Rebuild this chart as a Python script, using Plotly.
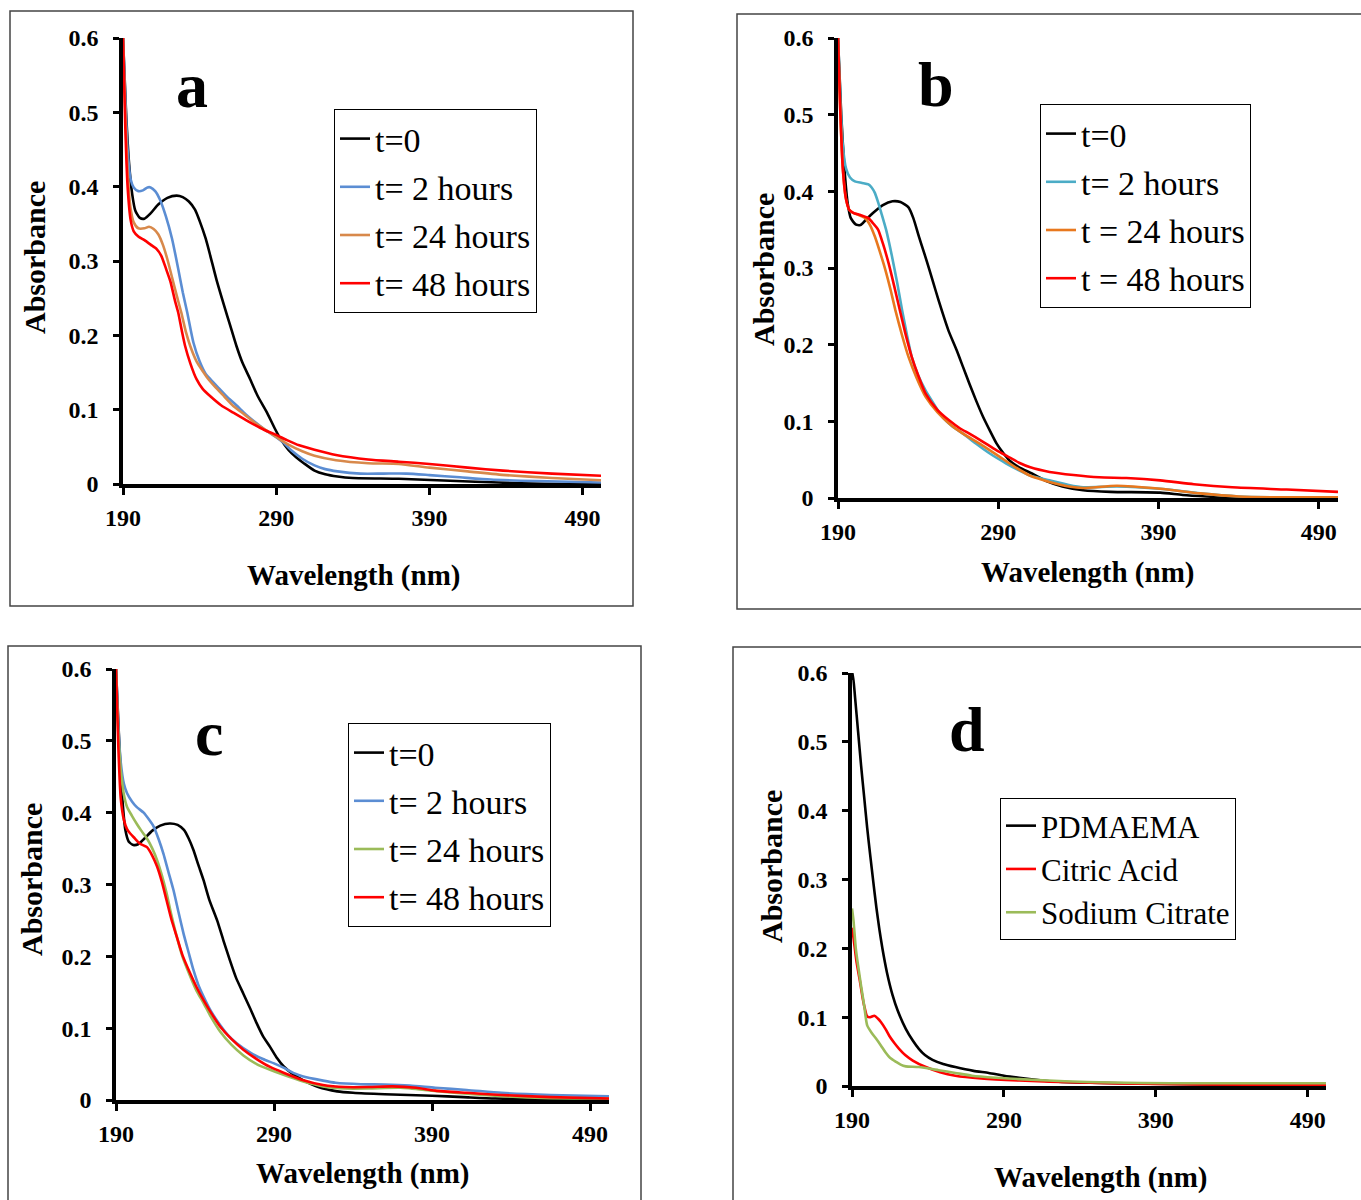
import plotly.graph_objects as go

# ---------------- data ----------------
# Panel a
A_T0_WL = [190, 192, 194, 196, 198, 201, 204, 208, 213, 219, 225, 229, 233, 237, 240, 244, 247, 251, 256, 260, 264, 268, 273, 278, 284, 289, 293, 298, 303, 308, 315, 322, 330, 340, 370, 395, 420, 450, 480, 502]
A_T0_AB = [0.60, 0.50, 0.43, 0.39, 0.368, 0.358, 0.357, 0.364, 0.376, 0.385, 0.388, 0.386, 0.380, 0.369, 0.354, 0.33, 0.307, 0.275, 0.24, 0.213, 0.186, 0.163, 0.141, 0.118, 0.096, 0.075, 0.06, 0.046, 0.036, 0.028, 0.018, 0.013, 0.010, 0.008, 0.007, 0.005, 0.003, 0.001, 0.0, 0.0]
A_T2_WL = [190, 191.5, 193, 195, 197, 200, 203, 206, 208, 211, 214, 218, 222, 226, 229, 232, 236, 240, 244, 247, 252, 258, 264, 270, 277, 284, 290, 295, 300, 307, 315, 322, 330, 345, 360, 375, 390, 410, 430, 460, 502]
A_T2_AB = [0.60, 0.52, 0.45, 0.41, 0.399, 0.394, 0.395, 0.399, 0.399, 0.394, 0.383, 0.36, 0.33, 0.29, 0.258, 0.23, 0.19, 0.165, 0.148, 0.141, 0.13, 0.117, 0.106, 0.094, 0.082, 0.071, 0.063, 0.055, 0.045, 0.034, 0.025, 0.02, 0.017, 0.014, 0.014, 0.014, 0.012, 0.009, 0.006, 0.004, 0.002]
A_T24_WL = [190, 191.5, 193, 195, 197, 200, 204, 207, 210, 213, 216, 219, 222, 225, 228, 231, 234, 238, 242, 245, 250, 256, 262, 269, 277, 285, 291, 298, 307, 315, 329, 350, 370, 390, 415, 440, 470, 502]
A_T24_AB = [0.60, 0.50, 0.42, 0.37, 0.352, 0.344, 0.344, 0.346, 0.343, 0.336, 0.322, 0.302, 0.278, 0.254, 0.231, 0.205, 0.185, 0.165, 0.152, 0.143, 0.131, 0.118, 0.105, 0.094, 0.081, 0.07, 0.062, 0.053, 0.044, 0.038, 0.032, 0.028, 0.027, 0.022, 0.017, 0.012, 0.008, 0.005]
A_T48_WL = [190, 191.5, 193, 195, 197, 200, 204, 208, 212, 215, 218, 221, 224, 226, 228.5, 230.5, 234, 238, 242, 247, 254, 262, 272, 282, 290, 297, 305, 315, 329, 350, 370, 390, 415, 438, 470, 502]
A_T48_AB = [0.60, 0.48, 0.40, 0.355, 0.34, 0.333, 0.328, 0.322, 0.316, 0.307, 0.29, 0.272, 0.246, 0.231, 0.205, 0.186, 0.162, 0.141, 0.128, 0.118, 0.106, 0.096, 0.084, 0.073, 0.066, 0.059, 0.052, 0.046, 0.039, 0.033, 0.03, 0.027, 0.022, 0.018, 0.014, 0.011]

# Panel b
B_T0_WL = [190, 192, 194, 196, 198, 201, 204, 207, 212, 218, 224, 229, 234, 237, 240.5, 244, 247, 251, 255, 259, 264, 268, 272, 276, 280.5, 285, 289, 293, 297, 303, 311, 320, 330, 343, 360, 391, 405, 420, 440, 502]
B_T0_AB = [0.60, 0.50, 0.43, 0.385, 0.365, 0.357, 0.356, 0.362, 0.372, 0.382, 0.387, 0.386, 0.379, 0.365, 0.341, 0.318, 0.298, 0.27, 0.243, 0.218, 0.193, 0.171, 0.149, 0.128, 0.106, 0.087, 0.071, 0.059, 0.049, 0.04, 0.032, 0.022, 0.015, 0.01, 0.008, 0.007, 0.004, 0.002, 0.0, 0.0]
B_T2_WL = [190, 191.5, 193, 195, 197.5, 200.5, 205, 209, 211, 213, 215, 217, 220, 223.7, 227, 230, 233, 236, 240, 244.7, 250, 255, 261, 268, 276, 284.7, 295, 303, 310, 322, 334, 343, 364, 391, 416, 440, 460, 502]
B_T2_AB = [0.60, 0.52, 0.46, 0.43, 0.418, 0.413, 0.411, 0.409, 0.405, 0.398, 0.386, 0.372, 0.35, 0.315, 0.28, 0.245, 0.213, 0.184, 0.16, 0.14, 0.122, 0.106, 0.094, 0.084, 0.071, 0.058, 0.045, 0.036, 0.029, 0.023, 0.017, 0.014, 0.015, 0.012, 0.006, 0.002, 0.001, 0.001]
B_T24_WL = [190, 191.5, 193, 195, 197, 199.5, 203, 207, 210, 213, 216, 219.5, 223, 225.8, 230, 234, 239, 244.7, 252, 259.5, 268, 278.4, 290, 300, 310, 322, 334, 343, 364, 391, 416, 440, 460, 502]
B_T24_AB = [0.60, 0.50, 0.43, 0.39, 0.376, 0.372, 0.369, 0.365, 0.356, 0.341, 0.322, 0.298, 0.27, 0.245, 0.212, 0.184, 0.157, 0.132, 0.112, 0.097, 0.084, 0.071, 0.055, 0.041, 0.029, 0.021, 0.015, 0.013, 0.016, 0.012, 0.006, 0.002, 0.001, 0.001]
B_T48_WL = [190, 191.5, 193, 195, 197, 199.5, 204, 209, 212, 215, 218, 221.6, 225, 228, 232, 236, 240, 244.7, 252, 259.5, 266, 272, 280, 289, 296, 303, 310, 322, 337, 353, 370, 391, 412, 436, 470, 502]
B_T48_AB = [0.60, 0.50, 0.43, 0.39, 0.376, 0.372, 0.369, 0.365, 0.358, 0.35, 0.332, 0.306, 0.277, 0.25, 0.215, 0.184, 0.16, 0.136, 0.115, 0.101, 0.091, 0.084, 0.074, 0.062, 0.054, 0.046, 0.04, 0.034, 0.03, 0.027, 0.026, 0.023, 0.018, 0.014, 0.011, 0.008]

# Panel c
C_T0_WL = [190, 192, 194, 196, 198, 201, 204, 208, 213, 218, 224, 229, 233, 236, 239, 242, 245.4, 249, 254, 258, 262, 266, 270.6, 275, 279, 283, 287.5, 292, 296, 302, 308, 318, 330, 340, 360, 390, 410, 430, 460, 502]
C_T0_AB = [0.60, 0.50, 0.42, 0.375, 0.36, 0.355, 0.356, 0.364, 0.375, 0.382, 0.385, 0.383, 0.376, 0.364, 0.348, 0.328, 0.306, 0.279, 0.25, 0.222, 0.195, 0.17, 0.148, 0.127, 0.107, 0.089, 0.074, 0.058, 0.047, 0.036, 0.028, 0.018, 0.012, 0.01, 0.008, 0.006, 0.004, 0.002, 0.001, 0.0]
C_T2_WL = [190, 191.5, 193, 195, 197, 200, 203, 207.5, 211, 214, 217, 220, 223, 226.4, 229.5, 232.7, 236, 239, 242, 245.4, 250, 256, 261, 266.4, 275, 283, 290, 296, 303, 308, 321, 329, 345, 360, 376, 392, 412, 434, 465, 502]
C_T2_AB = [0.60, 0.52, 0.47, 0.44, 0.427, 0.416, 0.408, 0.40, 0.39, 0.38, 0.363, 0.343, 0.319, 0.292, 0.262, 0.232, 0.205, 0.181, 0.161, 0.144, 0.124, 0.104, 0.09, 0.079, 0.066, 0.057, 0.051, 0.045, 0.037, 0.033, 0.027, 0.024, 0.022, 0.0215, 0.02, 0.017, 0.014, 0.01, 0.007, 0.005]
C_T24_WL = [190, 191.5, 193, 195, 197, 200, 203, 206, 209.6, 213, 216, 219, 222, 225, 228.5, 232, 237, 241, 245.4, 250, 256, 263, 270.6, 279, 287.5, 296, 308, 321, 335, 350, 370, 390, 410, 430, 460, 502]
C_T24_AB = [0.60, 0.51, 0.46, 0.425, 0.408, 0.396, 0.385, 0.375, 0.364, 0.35, 0.334, 0.313, 0.288, 0.258, 0.227, 0.2, 0.172, 0.152, 0.135, 0.116, 0.095, 0.077, 0.062, 0.05, 0.042, 0.035, 0.026, 0.019, 0.016, 0.016, 0.017, 0.013, 0.009, 0.006, 0.003, 0.002]
C_T48_WL = [190, 191.5, 193, 195, 197, 199, 202, 205, 209.6, 213, 216, 219, 222, 225, 228.5, 232, 237, 241, 245.4, 250, 256, 263, 270.6, 279, 287.5, 296, 308, 321, 335, 350, 365, 380, 392, 412, 434, 465, 502]
C_T48_AB = [0.60, 0.49, 0.42, 0.39, 0.377, 0.371, 0.364, 0.357, 0.352, 0.34, 0.325, 0.304, 0.278, 0.252, 0.227, 0.202, 0.176, 0.157, 0.139, 0.122, 0.102, 0.085, 0.07, 0.057, 0.046, 0.038, 0.028, 0.021, 0.018, 0.018, 0.019, 0.017, 0.013, 0.01, 0.007, 0.004, 0.002]

# Panel d
D_PD_WL = [190, 190.5, 192, 194, 196, 198, 200, 202, 204, 206, 208, 210, 213, 216.7, 220, 225.4, 230, 234, 238, 243, 250, 258, 270, 280, 290, 300, 320, 340, 370, 400, 450, 502]
D_PD_AB = [0.59, 0.60, 0.565, 0.515, 0.465, 0.42, 0.375, 0.335, 0.297, 0.26, 0.228, 0.20, 0.165, 0.132, 0.11, 0.083, 0.066, 0.054, 0.045, 0.038, 0.032, 0.0275, 0.022, 0.019, 0.015, 0.012, 0.007, 0.005, 0.004, 0.003, 0.002, 0.002]
D_CA_WL = [190, 191, 193, 195, 197, 198.5, 200, 202, 204.7, 207, 209, 212, 214.5, 218, 221, 225, 230, 238.6, 248, 258, 275, 300, 340, 390, 450, 502]
D_CA_AB = [0.23, 0.215, 0.18, 0.155, 0.128, 0.112, 0.101, 0.10, 0.102, 0.098, 0.093, 0.083, 0.073, 0.062, 0.054, 0.045, 0.037, 0.0275, 0.02, 0.015, 0.011, 0.008, 0.005, 0.003, 0.002, 0.002]
D_SC_WL = [190, 191, 192.5, 194, 196, 198, 200, 203, 205.8, 209, 212, 215, 219, 222, 225.4, 234, 247, 258, 269, 285, 300, 330, 360, 400, 450, 502]
D_SC_AB = [0.258, 0.24, 0.20, 0.175, 0.145, 0.117, 0.088, 0.077, 0.069, 0.059, 0.049, 0.041, 0.035, 0.031, 0.0285, 0.0275, 0.023, 0.019, 0.015, 0.012, 0.01, 0.007, 0.005, 0.004, 0.004, 0.004]

X_TICKS = [190, 290, 390, 490]
Y_TICKS = [0, 0.1, 0.2, 0.3, 0.4, 0.5, 0.6]
Y_TICKTEXT = ["0", "0.1", "0.2", "0.3", "0.4", "0.5", "0.6"]

SERIES = [
    # panel, name, x, y, color
    ("a", "t=0", A_T0_WL, A_T0_AB, "#000000"),
    ("a", "t= 2 hours", A_T2_WL, A_T2_AB, "#5B8DD3"),
    ("a", "t= 24 hours", A_T24_WL, A_T24_AB, "#D8894B"),
    ("a", "t= 48 hours", A_T48_WL, A_T48_AB, "#FF0000"),
    ("b", "t=0", B_T0_WL, B_T0_AB, "#000000"),
    ("b", "t= 2 hours", B_T2_WL, B_T2_AB, "#4BACC6"),
    ("b", "t = 24 hours", B_T24_WL, B_T24_AB, "#E8781E"),
    ("b", "t = 48 hours", B_T48_WL, B_T48_AB, "#FF0000"),
    ("c", "t=0", C_T0_WL, C_T0_AB, "#000000"),
    ("c", "t= 2 hours", C_T2_WL, C_T2_AB, "#5B8DD3"),
    ("c", "t= 24 hours", C_T24_WL, C_T24_AB, "#9BBB59"),
    ("c", "t= 48 hours", C_T48_WL, C_T48_AB, "#FF0000"),
    ("d", "PDMAEMA", D_PD_WL, D_PD_AB, "#000000"),
    ("d", "Citric Acid", D_CA_WL, D_CA_AB, "#FF0000"),
    ("d", "Sodium Citrate", D_SC_WL, D_SC_AB, "#9BBB59"),
]

# ---------------- layout geometry (pixels) ----------------
W, H = 1361, 1200
def fx(p): return p / W
def fy(p): return 1 - p / H

PANELS = {
    "a": dict(ax="", plot=(123, 601, 38, 484), frame=(10, 633, 11, 606), leg=(334, 109), gap=1, lfont=34,
              ytitle=(35, 258), xtitle=(353, 575), letter=(192, 86)),
    "b": dict(ax="2", plot=(838, 1338, 38, 498), frame=(737, 1366, 14, 609), leg=(1040, 104), gap=1, lfont=34,
              ytitle=(763, 270), xtitle=(1087, 572), letter=(936, 85)),
    "c": dict(ax="3", plot=(116, 609, 669, 1100), frame=(8, 641, 646, 1206), leg=(348, 723), gap=1, lfont=34,
              ytitle=(32, 880), xtitle=(362, 1173), letter=(209, 733)),
    "d": dict(ax="4", plot=(852, 1326, 673, 1086), frame=(733, 1366, 647, 1206), leg=(1000, 798), gap=0, lfont=31,
              ytitle=(771, 866), xtitle=(1100, 1177), letter=(967, 730)),
}
LEGEND_KEY = {"a": "legend", "b": "legend2", "c": "legend3", "d": "legend4"}

SERIF = "Liberation Serif, Times New Roman, serif"

fig = go.Figure()
for i, (panel, name, xs, ys, color) in enumerate(SERIES):
    ax = PANELS[panel]["ax"]
    fig.add_trace(go.Scatter(
        x=xs, y=ys, name=name, mode="lines",
        line=dict(color=color, width=2.6, shape="spline", smoothing=0.6),
        xaxis="x" + ax, yaxis="y" + ax,
        legend=LEGEND_KEY[panel], legendgroup=f"g{i}",
        hoverinfo="skip",
    ))

layout = dict(
    template="none",
    width=W, height=H, autosize=False, margin=dict(l=0, r=0, t=0, b=0, pad=0),
    paper_bgcolor="white", plot_bgcolor="white",
    showlegend=True, annotations=[], shapes=[],
)

for key, p in PANELS.items():
    ax = p["ax"]
    x0, x1, yt, yb = p["plot"]
    layout["xaxis" + ax] = dict(
        domain=[fx(x0), fx(x1)], anchor="y" + ax, range=[190, 502], automargin=False,
        tickvals=X_TICKS, ticks="outside", ticklen=7, tickwidth=3, tickcolor="black",
        showline=True, linewidth=3.5, linecolor="black", showgrid=False, zeroline=False,
        tickfont=dict(family=SERIF, size=24, color="black", weight="bold"),
        ticklabelstandoff=2, fixedrange=True,
    )
    layout["yaxis" + ax] = dict(
        domain=[fy(yb), fy(yt)], anchor="x" + ax, range=[0, 0.6], automargin=False,
        tickvals=Y_TICKS, ticktext=Y_TICKTEXT, ticks="outside", ticklen=6, tickwidth=3, tickcolor="black",
        showline=True, linewidth=3.5, linecolor="black", showgrid=False, zeroline=False,
        tickfont=dict(family=SERIF, size=24, color="black", weight="bold"),
        ticklabelstandoff=10, fixedrange=True,
    )
    lx, ly = p["leg"]
    layout[LEGEND_KEY[key]] = dict(
        x=fx(lx), y=fy(ly), xanchor="left", yanchor="top",
        bordercolor="black", borderwidth=1, bgcolor="white",
        font=dict(family=SERIF, size=p["lfont"], color="black"),
        traceorder="grouped", tracegroupgap=p["gap"], itemwidth=30,
    )
    fx0, fx1, fy0, fy1 = p["frame"]
    layout["shapes"].append(dict(type="rect", xref="paper", yref="paper",
                                 x0=fx(fx0), x1=fx(fx1), y0=fy(fy1), y1=fy(fy0),
                                 line=dict(color="#444444", width=1.5), layer="below"))
    tx, ty = p["ytitle"]
    layout["annotations"].append(dict(text="Absorbance", xref="paper", yref="paper", x=fx(tx), y=fy(ty),
                                      showarrow=False, textangle=-90, xanchor="center", yanchor="middle",
                                      font=dict(family=SERIF, size=30, color="black", weight="bold")))
    tx, ty = p["xtitle"]
    layout["annotations"].append(dict(text="Wavelength (nm)", xref="paper", yref="paper", x=fx(tx), y=fy(ty),
                                      showarrow=False, xanchor="center", yanchor="middle",
                                      font=dict(family=SERIF, size=29, color="black", weight="bold")))
    tx, ty = p["letter"]
    layout["annotations"].append(dict(text=key, xref="paper", yref="paper", x=fx(tx), y=fy(ty),
                                      showarrow=False, xanchor="center", yanchor="middle",
                                      font=dict(family=SERIF, size=64, color="black", weight="bold")))

fig.update_layout(**layout)
fig.write_html("out.html", config={"displayModeBar": False},
               post_script="document.body.style.margin='0px';")
